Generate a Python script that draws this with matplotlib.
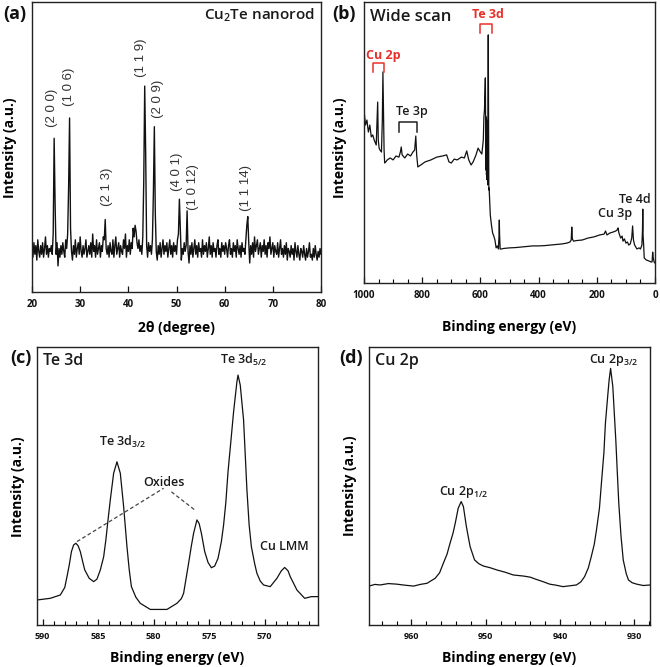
import numpy as np
import matplotlib
matplotlib.use("Agg")
import matplotlib.pyplot as plt
from matplotlib.ticker import MultipleLocator
from matplotlib import font_manager

plt.rcParams['font.family'] = ['Open Sans', 'DejaVu Sans']
plt.rcParams['mathtext.default'] = 'regular'

# ---------------- data ----------------
# (a) XRD, 2theta grid 20..80 step 0.2, intensity in % of axis height
xrd_2theta = np.linspace(20, 80, 301)
xrd_intensity = [
    15, 12, 17, 13, 16, 11, 18, 14, 12, 16,
    13, 17, 12, 15, 19, 13, 16, 12, 15, 14,
    16, 13, 20, 53, 30, 13, 17, 9, 15, 12,
    16, 13, 17, 14, 12, 18, 15, 20, 36, 60,
    22, 14, 11, 16, 13, 18, 12, 15, 17, 13,
    19, 14, 12, 16, 13, 15, 18, 12, 14, 16,
    13, 17, 12, 20, 14, 16, 12, 18, 13, 15,
    17, 12, 16, 14, 19, 18, 25, 15, 13, 16,
    12, 17, 14, 13, 18, 12, 16, 19, 13, 15,
    17, 12, 16, 14, 13, 18, 15, 20, 12, 16,
    14, 18, 13, 17, 15, 22, 19, 23, 21, 17,
    15, 18, 14, 16, 13, 19, 38, 71, 48, 16,
    12, 17, 14, 16, 13, 18, 34, 57, 27, 14,
    11, 16, 13, 17, 12, 15, 18, 13, 16, 14,
    17, 12, 15, 18, 13, 16, 12, 17, 14, 16,
    13, 18, 20, 32, 22, 11, 15, 13, 17, 14,
    16, 28, 14, 10, 16, 13, 17, 12, 15, 18,
    13, 16, 12, 17, 14, 15, 12, 18, 13, 16,
    14, 17, 12, 15, 19, 13, 16, 12, 17, 14,
    15, 12, 16, 18, 13, 15, 12, 17, 14, 16,
    13, 17, 15, 12, 16, 18, 13, 15, 12, 17,
    14, 16, 12, 18, 15, 13, 16, 12, 17, 14,
    15, 13, 18, 23, 26, 17, 10, 16, 13, 17,
    12, 19, 14, 16, 18, 13, 15, 17, 12, 16,
    14, 18, 13, 16, 12, 17, 15, 19, 13, 15,
    17, 12, 16, 14, 13, 17, 12, 15, 18, 13,
    15, 12, 16, 13, 17, 11, 15, 14, 12, 16,
    13, 15, 11, 17, 14, 12, 16, 13, 11, 15,
    14, 12, 16, 13, 11, 15, 12, 14, 17, 12,
    13, 11, 15, 12, 16, 13, 11, 14, 12, 15, 13,
]
hkl_labels = ['(2 0 0)', '(1 0 6)', '(2 1 3)', '(1 1 9)', '(2 0 9)',
              '(4 0 1)', '(1 0 12)', '(1 1 14)']
hkl_2theta = [24.1, 27.7, 35.5, 42.6, 46.2, 50.2, 53.4, 64.5]
hkl_level = [63.4, 70.7, 36.2, 80.7, 66.6, 41.4, 36.2, 35.9]

# (b) XPS wide scan
wide_be = [1000, 995, 990, 985, 980, 975, 970, 965, 958, 955,
           953, 951, 948, 945, 940, 937, 935, 933, 931, 929,
           925, 920, 910, 900, 890, 880, 875, 872, 869, 860,
           850, 840, 832, 826, 822, 819, 815, 805, 790, 770,
           750, 730, 716, 708, 700, 690, 680, 665, 655, 647,
           640, 632, 625, 615, 608, 600, 595, 590, 588, 586,
           584, 583, 582, 581, 580, 579, 578, 577, 576, 575,
           574, 573, 572, 571, 570, 566, 562, 558, 554, 550,
           546, 542, 538, 536, 535, 534, 532, 528, 520, 500,
           480, 460, 440, 420, 400, 380, 360, 340, 320, 303,
           292, 288, 286, 284, 280, 270, 250, 230, 210, 190,
           175, 170, 165, 155, 145, 135, 130, 127, 124, 118,
           113, 110, 105, 100, 95, 90, 85, 80, 77, 74,
           70, 66, 62, 55, 50, 45, 43, 42, 41, 39,
           37, 30, 20, 14, 10, 8, 6, 3, 0]
wide_int = [61.6, 56.2, 58.0, 53.7, 56.2, 52.0, 52.7, 50.9, 49.1, 58.0,
            64.4, 50.9, 48.0, 47.3, 46.6, 58.0, 75.1, 61.6, 47.3, 42.7,
            43.1, 43.8, 44.5, 43.8, 45.2, 44.8, 46.6, 48.4, 45.6, 44.5,
            45.9, 45.2, 46.6, 47.3, 52.3, 45.6, 41.3, 42.0, 43.1, 43.8,
            44.8, 45.2, 45.6, 43.1, 42.7, 44.1, 43.8, 44.8, 44.5, 47.0,
            43.8, 42.0, 43.1, 45.6, 48.0, 46.6, 45.9, 50.9, 59.1, 61.6,
            68.7, 73.0, 58.0, 40.2, 59.1, 38.4, 58.0, 36.7, 56.2, 34.9,
            65.1, 88.3, 61.6, 33.1, 33.8, 24.2, 20.6, 17.8, 16.7, 15.3,
            12.5, 13.2, 12.1, 17.0, 22.4, 17.0, 12.1, 12.1, 12.3, 12.5,
            12.6, 12.8, 13.0, 13.2, 13.2, 13.3, 13.5, 13.7, 13.9, 14.2,
            14.6, 15.3, 19.9, 15.7, 14.9, 15.1, 15.3, 16.0, 16.4, 17.1,
            17.4, 18.5, 17.1, 17.8, 18.1, 18.5, 18.9, 19.6, 17.8, 16.0,
            16.7, 14.9, 15.7, 14.2, 14.6, 13.5, 13.9, 16.0, 20.3, 15.3,
            13.5, 12.8, 12.1, 12.5, 12.1, 13.5, 18.9, 26.3, 17.0, 13.5,
            8.9, 8.2, 7.8, 7.5, 7.5, 11.0, 8.9, 7.5, 7.1]

# (c) Te 3d high resolution
te_be = [590.5, 589.3, 588.4, 588.0, 587.8, 587.6, 587.4, 587.2, 587.0, 586.8,
         586.6, 586.4, 586.2, 585.8, 585.4, 585.1, 584.8, 584.5, 584.3, 584.1,
         583.9, 583.6, 583.3, 583.0, 582.7, 582.4, 582.2, 582.0, 581.6, 581.2,
         580.3, 578.8, 577.9, 577.5, 577.3, 576.9, 576.6, 576.4, 576.1, 575.9,
         575.7, 575.4, 575.1, 574.8, 574.5, 574.2, 573.9, 573.7, 573.5, 573.3,
         573.0, 572.8, 572.5, 572.4, 572.2, 571.9, 571.6, 571.4, 571.2, 570.9,
         570.7, 570.4, 570.1, 569.5, 568.9, 568.5, 568.2, 567.9, 567.7, 567.1,
         566.4, 565.8, 565.2]
te_int = [9.0, 9.6, 10.8, 13.5, 17.4, 21.5, 26.4, 28.8, 29.4, 28.5,
          26.4, 23.0, 19.8, 16.8, 15.6, 16.5, 19.8, 24.5, 30.6, 38.0,
          45.0, 54.6, 58.7, 54.6, 42.6, 28.2, 20.0, 13.8, 10.0, 7.8,
          5.6, 5.6, 7.8, 9.5, 11.4, 21.0, 28.5, 33.0, 37.8, 36.5,
          33.0, 26.4, 22.5, 20.6, 21.2, 24.0, 30.0, 36.0, 44.0, 55.2,
          68.0, 76.7, 87.5, 89.9, 86.3, 73.7, 48.6, 36.0, 28.2, 22.0,
          18.6, 15.8, 14.4, 13.8, 16.8, 19.5, 20.7, 19.5, 17.4, 12.6,
          9.6, 10.2, 10.2]

# (d) Cu 2p high resolution
cu_be = [965.7, 964.9, 964.2, 963.1, 962.0, 960.8, 959.7, 958.8, 957.9, 956.8,
         956.2, 955.7, 955.2, 954.8, 954.4, 954.1, 953.7, 953.3, 953.0, 952.6,
         952.1, 951.5, 950.9, 950.3, 949.4, 948.5, 947.4, 946.3, 944.9, 944.0,
         943.2, 942.3, 941.4, 940.5, 939.6, 938.7, 937.8, 937.2, 936.7, 936.2,
         935.8, 935.4, 935.1, 934.7, 934.4, 934.1, 933.9, 933.6, 933.4, 933.2,
         932.9, 932.7, 932.5, 932.3, 932.1, 931.8, 931.5, 931.1, 930.8, 930.3,
         929.7, 928.8, 927.9]
cu_int = [14.0, 14.6, 14.4, 14.9, 14.7, 14.3, 14.0, 14.6, 15.0, 16.8,
          18.8, 22.2, 25.5, 29.4, 33.0, 36.6, 42.0, 44.4, 42.6, 35.4,
          28.2, 23.4, 22.0, 21.2, 20.6, 19.8, 19.0, 18.0, 17.6, 17.2,
          16.4, 15.6, 14.7, 14.3, 13.8, 14.1, 14.4, 15.5, 17.4, 20.5,
          24.6, 29.0, 34.2, 42.0, 52.2, 62.0, 72.5, 82.0, 88.1, 92.3,
          85.7, 76.0, 66.5, 55.0, 43.8, 32.0, 23.4, 18.5, 16.2, 15.2,
          14.7, 14.2, 14.4]

# ---------------- figure ----------------
fig = plt.figure(figsize=(6.6, 6.67), dpi=100)
W, H = 660.0, 667.0


def make_ax(l, t, r, b):
    return fig.add_axes([l / W, 1 - b / H, (r - l) / W, (b - t) / H])


ax_a = make_ax(32, 2, 321, 292)
ax_b = make_ax(364, 2, 655, 283)
ax_c = make_ax(37, 347, 318, 625)
ax_d = make_ax(369, 347, 650, 625)

LC = '#111111'
TC = '#1a1a1a'


def style(ax, tick_size, pad):
    for s in ax.spines.values():
        s.set_linewidth(1.0)
        s.set_color('#222222')
    ax.set_yticks([])
    ax.tick_params(axis='x', which='major', direction='in', length=4.5,
                   width=0.9, labelsize=tick_size, pad=pad, colors='#111111')
    ax.tick_params(axis='x', which='minor', direction='in', length=3,
                   width=0.8)


# (a)
ax_a.plot(xrd_2theta, xrd_intensity, color=LC, lw=1.0)
ax_a.set_xlim(20, 80)
ax_a.set_ylim(0, 100)
ax_a.xaxis.set_major_locator(MultipleLocator(10))
style(ax_a, 7, 5)
for lab, x, y in zip(hkl_labels, hkl_2theta, hkl_level):
    ax_a.text(x, y, lab, rotation=90, ha='center', va='center', fontsize=9.5,
              color='#333333', family=['Liberation Sans', 'DejaVu Sans'])
ax_a.text(0.979, 0.953, 'Cu$_2$Te nanorod', transform=ax_a.transAxes,
          ha='right', va='center', fontsize=11, fontweight='semibold', color=TC)
ax_a.set_xlabel('2θ (degree)', fontsize=10, fontweight='bold')
ax_a.xaxis.set_label_coords(0.5, -0.1)
ax_a.set_ylabel('Intensity (a.u.)', fontsize=10, fontweight='bold')
ax_a.yaxis.set_label_coords(-0.052, 0.497)

# (b)
ax_b.plot(wide_be, wide_int, color=LC, lw=0.9)
ax_b.set_xlim(1000, 0)
ax_b.set_ylim(0, 100)
ax_b.xaxis.set_major_locator(MultipleLocator(200))
ax_b.xaxis.set_minor_locator(MultipleLocator(50))
style(ax_b, 7, 5)
ax_b.text(0.021, 0.945, 'Wide scan', transform=ax_b.transAxes, ha='left',
          va='center', fontsize=12, fontweight='semibold', color=TC)


def bracket(ax, x1, x2, top, leg, color):
    ax.plot([x1, x1, x2, x2], [leg, top, top, leg], color=color, lw=1.1)


red = '#e8302a'
ax_b.text(934.7, 81.1, 'Cu 2p', color=red, fontsize=9, fontweight='bold',
          ha='center', va='center')
bracket(ax_b, 968, 931, 78.2, 75.0, red)
ax_b.text(573.9, 95.4, 'Te 3d', color=red, fontsize=9, fontweight='bold',
          ha='center', va='center')
bracket(ax_b, 601, 561, 92.2, 88.9, red)
ax_b.text(836, 60.9, 'Te 3p', color=TC, fontsize=9, fontweight='semibold',
          ha='center', va='center')
bracket(ax_b, 879, 819, 57.4, 53.8, '#222222')
ax_b.text(68.7, 29.8, 'Te 4d', color=TC, fontsize=9, fontweight='semibold',
          ha='center', va='center')
ax_b.text(137.5, 24.9, 'Cu 3p', color=TC, fontsize=9, fontweight='semibold',
          ha='center', va='center')
ax_b.set_xlabel('Binding energy (eV)', fontsize=10, fontweight='bold')
ax_b.xaxis.set_label_coords(0.5, -0.132)
ax_b.set_ylabel('Intensity (a.u.)', fontsize=10, fontweight='bold')
ax_b.yaxis.set_label_coords(-0.058, 0.48)

# (c)
ax_c.plot(te_be, te_int, color=LC, lw=0.9)
ax_c.set_xlim(590.5, 565.2)
ax_c.set_ylim(0, 100)
ax_c.xaxis.set_major_locator(MultipleLocator(5))
ax_c.xaxis.set_minor_locator(MultipleLocator(1))
style(ax_c, 6.5, 5)
ax_c.text(0.021, 0.95, 'Te 3d', transform=ax_c.transAxes, ha='left',
          va='center', fontsize=11.5, fontweight='semibold', color=TC)
ax_c.text(571.85, 95.3, 'Te 3d$_{5/2}$', ha='center', va='center', fontsize=9,
          fontweight='semibold', color=TC)
ax_c.text(582.75, 65.8, 'Te 3d$_{3/2}$', ha='center', va='center', fontsize=9,
          fontweight='semibold', color=TC)
ax_c.text(579.06, 51.4, 'Oxides', ha='center', va='center', fontsize=9,
          fontweight='semibold', color=TC)
ax_c.text(568.25, 28.1, 'Cu LMM', ha='center', va='center', fontsize=9,
          fontweight='semibold', color=TC)
ax_c.plot([586.9, 579.1], [30.0, 49.2], ls=(0, (3, 2)), color='#444444', lw=0.9)
ax_c.plot([578.4, 576.3], [47.9, 41.4], ls=(0, (3, 2)), color='#444444', lw=0.9)
ax_c.set_xlabel('Binding energy (eV)', fontsize=10, fontweight='bold')
ax_c.xaxis.set_label_coords(0.5, -0.094)
ax_c.set_ylabel('Intensity (a.u.)', fontsize=10, fontweight='bold')
ax_c.yaxis.set_label_coords(-0.043, 0.496)

# (d)
ax_d.plot(cu_be, cu_int, color=LC, lw=0.9)
ax_d.set_xlim(965.7, 927.9)
ax_d.set_ylim(0, 100)
ax_d.xaxis.set_major_locator(MultipleLocator(10))
ax_d.xaxis.set_minor_locator(MultipleLocator(2))
style(ax_d, 6.5, 5)
ax_d.text(0.021, 0.948, 'Cu 2p', transform=ax_d.transAxes, ha='left',
          va='center', fontsize=11.5, fontweight='semibold', color=TC)
ax_d.text(932.86, 95.3, 'Cu 2p$_{3/2}$', ha='center', va='center', fontsize=9,
          fontweight='semibold', color=TC)
ax_d.text(953.03, 47.8, 'Cu 2p$_{1/2}$', ha='center', va='center', fontsize=9,
          fontweight='semibold', color=TC)
ax_d.set_xlabel('Binding energy (eV)', fontsize=10, fontweight='bold')
ax_d.xaxis.set_label_coords(0.5, -0.094)
ax_d.set_ylabel('Intensity (a.u.)', fontsize=10, fontweight='bold')
ax_d.yaxis.set_label_coords(-0.043, 0.5)

# panel letters
for lab, (px, py) in zip(['(a)', '(b)', '(c)', '(d)'],
                         [(15, 14.5), (344, 14.5), (20.5, 358), (351, 358.5)]):
    fig.text(px / W, 1 - py / H, lab, ha='center', va='center', fontsize=13,
             fontweight='bold', color='#111111')

fig.canvas.draw()
for ax in (ax_a, ax_b, ax_c, ax_d):
    for lbl in ax.get_xticklabels():
        lbl.set_fontweight('bold')

fig.savefig('out.png', dpi=100)
